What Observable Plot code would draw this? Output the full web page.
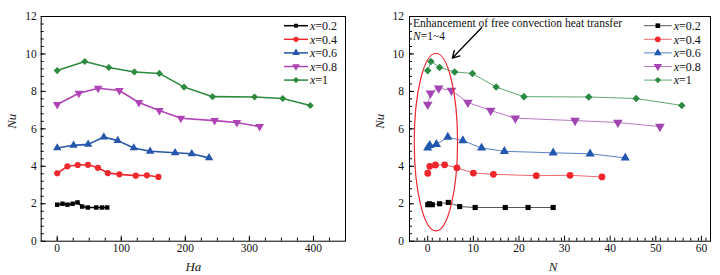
<!DOCTYPE html>
<html><head><meta charset="utf-8">
<script src="https://cdn.jsdelivr.net/npm/d3@7"></script>
<script src="https://cdn.jsdelivr.net/npm/@observablehq/plot@0.6"></script>
<style>
html,body{margin:0;padding:0;background:#fff;}
body{width:720px;height:275px;position:relative;overflow:hidden;font-family:"Liberation Serif","Times New Roman",serif;}
.panel{position:absolute;top:0;width:360px;height:275px;}
.panel svg{position:absolute;left:0;top:0;}
.panel svg, .panel svg text, .panel svg tspan{font-family:"Liberation Serif","Times New Roman",serif !important;}
</style></head>
<body>
<div id="left" class="panel" style="left:0"></div>
<div id="right" class="panel" style="left:360px"></div>
<script>
// ---------- data ----------
const seriesNames = ["0.2", "0.4", "0.6", "0.8", "1"];
const nuTicks = [0, 2, 4, 6, 8, 10, 12];
const haTicks = [0, 100, 200, 300, 400];
const nTicks = [0, 10, 20, 30, 40, 50, 60];

const ha02 = [0, 8.3, 16, 24, 31.7, 39, 47.8, 61, 70, 78];
const n02  = [0, 0.35, 1.0, 2.6, 4.5, 7.0, 10.4, 17.0, 22.0, 27.5];
const nu02 = [1.95, 2.0, 1.95, 2.0, 2.07, 1.85, 1.8, 1.8, 1.8, 1.8];

const ha04 = [0, 16, 32, 48, 63.6, 79, 97, 122.6, 140, 158];
const n04  = [0, 0.44, 1.7, 3.7, 6.4, 10, 14.4, 23.8, 31.2, 38.2];
const nu04 = [3.63, 4.0, 4.07, 4.08, 3.92, 3.64, 3.57, 3.5, 3.52, 3.43];

const ha06 = [0, 25.5, 48.3, 72.7, 94.5, 119.5, 145, 184, 210, 237];
const n06  = [0, 0.44, 1.9, 4.4, 7.7, 11.8, 16.8, 27.5, 35.6, 43.3];
const nu06 = [4.98, 5.12, 5.17, 5.56, 5.37, 4.98, 4.8, 4.72, 4.67, 4.45];

const ha08 = [0, 33.8, 63.9, 97, 127.5, 159.5, 193, 245.7, 280.5, 316];
const n08  = [0, 0.6, 2.4, 5.2, 8.8, 13.8, 19.2, 32.3, 41.7, 50.9];
const nu08 = [7.3, 7.9, 8.17, 8.05, 7.41, 6.98, 6.57, 6.44, 6.34, 6.12];

const ha1 = [0, 43, 80.5, 120.5, 159.5, 198, 242.5, 308, 352, 395];
const n1  = [0, 0.7, 2.6, 5.9, 9.8, 15.0, 21.1, 35.3, 45.7, 55.7];
const nu1 = [9.11, 9.6, 9.28, 9.04, 8.96, 8.23, 7.72, 7.7, 7.62, 7.25];

const annotText = "Enhancement of free convection heat transfer";
const annotRange = "=1~4";
const arrowFrom = {x: 11.8, y: 11.4};
const arrowTo = {x: 5.4, y: 9.78};
const ellipse = {cx: 1.9, cy: 5.27, rx: 4.75, ry: 4.74};

// ---------- styling ----------
const FONT = "Liberation Serif, Times New Roman, serif";
const HA = [ha02, ha04, ha06, ha08, ha1];
const NN = [n02, n04, n06, n08, n1];
const NU = [nu02, nu04, nu06, nu08, nu1];

const triDown = {draw(ctx, size) {
  const s3 = Math.sqrt(3);
  const y = -Math.sqrt(size / (s3 * 3));
  ctx.moveTo(0, -y * 2); ctx.lineTo(-s3 * y, y); ctx.lineTo(s3 * y, y); ctx.closePath();
}};
const symbols = [d3.symbolSquare, d3.symbolCircle, d3.symbolTriangle, triDown, d3.symbolDiamond2 || d3.symbolDiamond];
const colorsL = ["#000000", "#ee2a2e", "#2456aa", "#b043b6", "#2e8a3e"];
const lineL = ["#000000", "#ee2a2e", "#2456aa", "#b043b6", "#2e8a3e"];
const colorsR = ["#000000", "#f0262b", "#2157b0", "#a245b3", "#2b8a41"];
const lineR = ["#555555", "#f26a6c", "#5a80c6", "#b77ac0", "#5fa871"];
const rL = [2.5, 3.1, 3.1, 3.2, 3.2];
const rR = [2.9, 3.4, 3.4, 3.6, 3.4];

function rows(xs, i) { return xs[i].map((x, j) => ({x, y: NU[i][j]})); }

function makePanel(cfg) {
  const {xs, xDomain, xTicks, xMinor, yMinor, ml, mr, mt, mb, colors, lines, rs, lw} = cfg;
  const W = 360, H = 275;
  const ph = H - mt - mb, pw = W - ml - mr;
  const marks = [];
  const minorX = d3.range(xDomain[0], xDomain[1] + 1e-9, xMinor).map(v => +v.toFixed(6)).filter(v => v > xDomain[0] && v < xDomain[1]);
  const minorY = d3.range(0, 12 + 1e-9, yMinor).map(v => +v.toFixed(6)).filter(v => v > 0 && v < 12);
  marks.push(Plot.tickX(minorX, {x: d => d, insetTop: ph - 3, stroke: "#000", strokeWidth: 1}));
  marks.push(Plot.tickX(xTicks, {x: d => d, insetTop: ph - 5, stroke: "#000", strokeWidth: 1}));
  marks.push(Plot.tickY(minorY, {y: d => d, insetRight: pw - 3, stroke: "#000", strokeWidth: 1}));
  marks.push(Plot.tickY(nuTicks, {y: d => d, insetRight: pw - 5, stroke: "#000", strokeWidth: 1}));
  marks.push(Plot.axisX(xTicks, {tickSize: 0, tickPadding: 3, label: null, fontSize: 11.5, fontFamily: FONT, fill: "#111"}));
  marks.push(Plot.axisY(nuTicks, {tickSize: 0, tickPadding: cfg.yPad, label: null, fontSize: 11.5, fontFamily: FONT, fill: "#111"}));
  for (let i = 0; i < 5; i++) {
    const d = rows(xs, i);
    marks.push(Plot.line(d, {x: "x", y: "y", stroke: lines[i], strokeWidth: lw}));
    marks.push(Plot.dot(d, {x: "x", y: "y", symbol: () => symbols[i], fill: colors[i], stroke: "none", r: rs[i]}));
  }
  marks.push(Plot.frame({stroke: "#000", strokeWidth: 1}));
  marks.push(...(cfg.extra || []));
  marks.push(Plot.text([cfg.xLabel], {text: d => d, frameAnchor: "bottom", dy: 26, dx: cfg.xLabelDx, fontSize: 13, fontFamily: FONT, fontStyle: "italic", fill: "#222", lineAnchor: "middle"}));
  marks.push(Plot.text(["Nu"], {text: d => d, frameAnchor: "left", dx: cfg.yLabelDx, rotate: -90, fontSize: 13, fontFamily: FONT, fontStyle: "italic", fill: "#222"}));
  return Plot.plot({
    width: W, height: H,
    marginLeft: ml, marginRight: mr, marginTop: mt, marginBottom: mb,
    x: {domain: xDomain},
    y: {domain: [0, 12]},
    symbol: {type: "identity"},
    style: {fontFamily: FONT, fontSize: "11px", background: "white", overflow: "visible"},
    marks
  });
}

function addLegend(container, cfg) {
  const svg = d3.select(container).append("svg").attr("width", 360).attr("height", 275)
    .style("font-family", FONT).style("font-size", "12px");
  seriesNames.forEach((name, i) => {
    const y = cfg.y0 + i * cfg.dy;
    svg.append("line").attr("x1", cfg.x1).attr("x2", cfg.x2).attr("y1", y).attr("y2", y)
      .attr("stroke", cfg.lines[i]).attr("stroke-width", cfg.lw);
    svg.append("path").attr("transform", `translate(${(cfg.x1 + cfg.x2) / 2},${y})`)
      .attr("d", d3.symbol().type(symbols[i]).size(Math.PI * cfg.rs[i] * cfg.rs[i])())
      .attr("fill", cfg.colors[i]);
    const t = svg.append("text").attr("x", cfg.x2 + 2).attr("y", y).attr("dy", "0.35em")
      .attr("text-anchor", "start").attr("fill", "#111");
    t.append("tspan").attr("font-style", "italic").text("x");
    t.append("tspan").text("=" + name);
  });
  return svg;
}

// ---------- left ----------
const leftEl = document.getElementById("left");
const leftPlot = makePanel({
  xs: HA, xDomain: [-25, 450], xTicks: haTicks, xMinor: 25, yMinor: 0.4,
  ml: 40.7, mr: 15, mt: 16, mb: 34.3, colors: colorsL, lines: lineL, rs: rL, lw: 1.6,
  yPad: 4.5, xLabel: "Ha", xLabelDx: 0, yLabelDx: -29
});
leftEl.appendChild(leftPlot);
addLegend(leftEl, {y0: 25.7, dy: 13.6, x1: 284, x2: 308, lines: lineL, colors: colorsL, rs: [2.2, 2.6, 2.8, 2.8, 2.8], lw: 1.5});

// ---------- right ----------
const rightEl = document.getElementById("right");
const rightPlot = makePanel({
  xs: NN, xDomain: [-4, 62], xTicks: nTicks, xMinor: 10 / 6, yMinor: 0.4,
  ml: 49, mr: 10, mt: 16, mb: 34.3, colors: colorsR, lines: lineR, rs: rR, lw: 1,
  yPad: 5.5, xLabel: "N", xLabelDx: -7, yLabelDx: -30,
  extra: [
    Plot.arrow([{x1: arrowFrom.x, y1: arrowFrom.y, x2: arrowTo.x, y2: arrowTo.y}], {x1: "x1", y1: "y1", x2: "x2", y2: "y2", stroke: "#000", strokeWidth: 1.3, headLength: 9, bend: 0})
  ]
});
rightEl.appendChild(rightPlot);
{
  const sx = rightPlot.scale("x"), sy = rightPlot.scale("y");
  const svg = d3.select(rightPlot);
  const cx = sx.apply(ellipse.cx), cy = sy.apply(ellipse.cy);
  const rx = Math.abs(sx.apply(ellipse.cx + ellipse.rx) - cx);
  const ry = Math.abs(sy.apply(ellipse.cy + ellipse.ry) - cy);
  svg.append("ellipse").attr("cx", cx).attr("cy", cy).attr("rx", rx).attr("ry", ry)
    .attr("fill", "none").attr("stroke", "#ea2a2f").attr("stroke-width", 1.2);
  svg.append("text").attr("x", 53).attr("y", 27).attr("fill", "#111").attr("text-anchor", "start")
    .style("font-size", "11.5px").text(annotText);
  const t = svg.append("text").attr("x", 53).attr("y", 40).attr("fill", "#111").attr("text-anchor", "start")
    .style("font-size", "11.5px");
  t.append("tspan").attr("font-style", "italic").text("N");
  t.append("tspan").text(annotRange);
}
addLegend(rightEl, {y0: 25.7, dy: 13.6, x1: 284, x2: 311.7, lines: lineR, colors: colorsR, rs: [2.6, 2.9, 2.9, 3.1, 2.9], lw: 1});
</script>
</body></html>
